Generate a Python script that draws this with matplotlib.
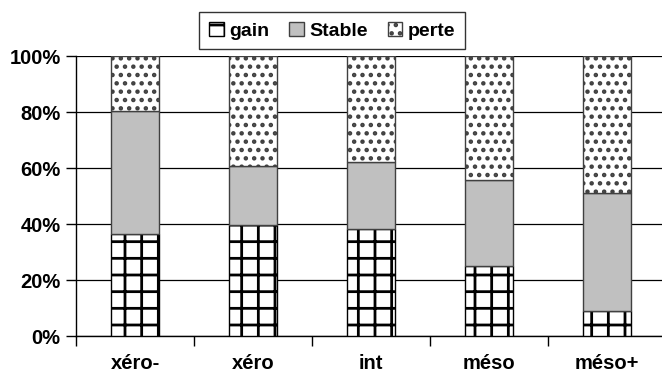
import matplotlib
matplotlib.use("Agg")
import matplotlib.pyplot as plt
from matplotlib.patches import Patch
import numpy as np

plt.rcParams['font.family'] = ['Liberation Sans', 'DejaVu Sans']
plt.rcParams['font.weight'] = 'bold'
plt.rcParams['hatch.linewidth'] = 2.0

categories = ["xéro-", "xéro", "int", "méso", "méso+"]
gain = [36.4, 39.6, 38.1, 25.1, 9.0]
stable = [44.1, 21.1, 24.0, 30.5, 42.2]
perte = [19.5, 39.3, 37.9, 44.4, 48.8]
yticklabels = ["0%", "20%", "40%", "60%", "80%", "100%"]

fig = plt.figure(figsize=(6.62, 3.74), dpi=100)
ax = fig.add_axes([76/662, 1-336/374, 590/662, 280/374])

x = np.arange(len(categories))
w = 0.4
g = np.array(gain); s = np.array(stable); p = np.array(perte)
ax.bar(x, g, w, color='white', edgecolor='black', hatch='+', linewidth=1, zorder=3)
ax.bar(x, s, w, bottom=g, color='#c0c0c0', edgecolor='#404040', linewidth=1, zorder=3)
ax.bar(x, p, w, bottom=g+s, color='white', edgecolor='#404040', hatch='..', linewidth=1, zorder=3)

ax.set_xlim(-0.5, 4.5)
ax.set_ylim(0, 100)
ax.set_yticks([0, 20, 40, 60, 80, 100])
ax.set_yticklabels(yticklabels, fontsize=14.5, fontweight='bold')
ax.yaxis.grid(True, color='black', linewidth=0.9, zorder=0)
ax.set_axisbelow(True)
ax.set_xticks(x)
ax.set_xticklabels(categories, fontsize=14.5, fontweight='bold')
ax.tick_params(axis='x', which='major', length=0, pad=13)
ax.set_xticks(np.arange(-0.5, 5.0, 1.0), minor=True)
ax.tick_params(axis='x', which='minor', length=7, width=1, color='black', direction='out')
ax.tick_params(axis='y', length=7, width=1, color='black', direction='out', pad=4)
for side in ['top', 'right']:
    ax.spines[side].set_visible(False)
ax.spines['left'].set_linewidth(1)
ax.spines['bottom'].set_linewidth(1)

handles = [Patch(facecolor='white', edgecolor='black', hatch='+', label='gain'),
           Patch(facecolor='#c0c0c0', edgecolor='#404040', label='Stable'),
           Patch(facecolor='white', edgecolor='#404040', hatch='..', label='perte')]
leg = fig.legend(handles=handles, loc='upper center', bbox_to_anchor=(0.502, 0.994), ncol=3,
                 frameon=True, fancybox=False, edgecolor='black',
                 handlelength=0.75, handleheight=0.75, handletextpad=0.3, columnspacing=1.0,
                 borderpad=0.5, prop={'weight': 'bold', 'size': 14})
leg.get_frame().set_linewidth(1)

fig.savefig("out.png", dpi=100)
